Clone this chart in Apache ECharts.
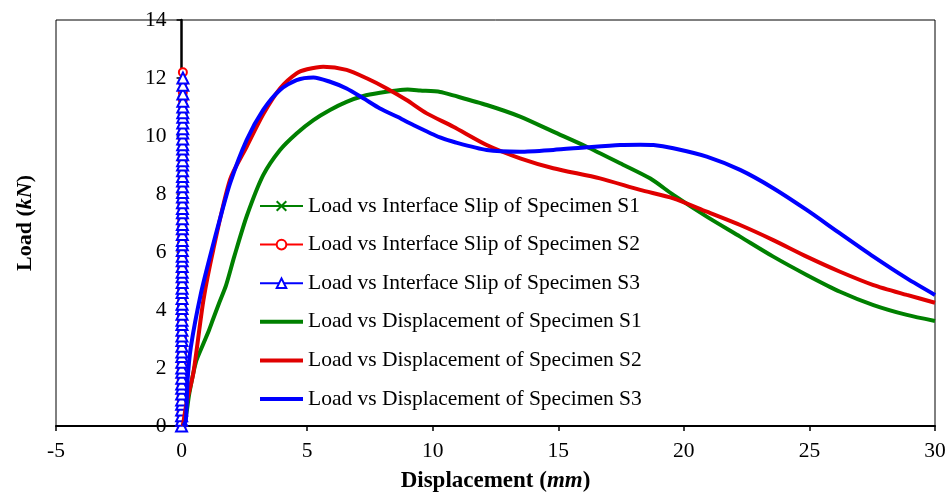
<!DOCTYPE html>
<html>
<head>
<meta charset="utf-8">
<script src="https://cdn.jsdelivr.net/npm/echarts@6/dist/echarts.min.js"></script>
<style>html,body{margin:0;padding:0;background:#fff}#c{width:950px;height:492px}</style>
</head>
<body>
<div id="c"></div>
<script>
// ---- data ----
const xTicks = [-5, 0, 5, 10, 15, 20, 25, 30];
const yTicks = [0, 2, 4, 6, 8, 10, 12, 14];

const seriesNames = [
  'Load vs Interface Slip of Specimen S1',
  'Load vs Interface Slip of Specimen S2',
  'Load vs Interface Slip of Specimen S3',
  'Load vs Displacement of Specimen S1',
  'Load vs Displacement of Specimen S2',
  'Load vs Displacement of Specimen S3'
];

// interface slip (mm) and load (kN)
const slipS1X = [0, 0.002, 0.004, 0.005, 0.007, 0.008, 0.010, 0.011, 0.012, 0.014, 0.015, 0.016, 0.018, 0.019, 0.020, 0.022, 0.023, 0.024, 0.026, 0.027, 0.028, 0.030, 0.031, 0.032, 0.034, 0.035, 0.036, 0.038, 0.039, 0.040, 0.041, 0.043, 0.044, 0.045, 0.046];
const slipS1Y = [0, 0.2, 0.5, 0.8, 1.1, 1.3, 1.6, 1.9, 2.2, 2.4, 2.7, 3.0, 3.3, 3.6, 3.9, 4.3, 4.7, 5.0, 5.4, 5.8, 6.2, 6.6, 7.0, 7.4, 7.8, 8.2, 8.6, 9.0, 9.4, 9.8, 10.2, 10.6, 10.9, 11.2, 11.5];
const slipS2X = [0, 0.001, 0.002, 0.003, 0.003, 0.004, 0.005, 0.006, 0.007, 0.007, 0.008, 0.009, 0.010, 0.011, 0.011, 0.012, 0.013, 0.014, 0.015, 0.015, 0.016, 0.017, 0.018, 0.019, 0.019, 0.020, 0.021, 0.022, 0.023, 0.023, 0.024, 0.025, 0.026, 0.027, 0.027, 0.028, 0.029, 0.030, 0.031, 0.031, 0.032, 0.033, 0.034, 0.035, 0.035, 0.036, 0.037, 0.038, 0.039, 0.039, 0.040, 0.041, 0.042, 0.043, 0.043, 0.044, 0.045, 0.046, 0.047, 0.047, 0.048, 0.049, 0.050, 0.051, 0.052];
const slipS2Y = [0, 0.15, 0.35, 0.5, 0.7, 0.9, 1.05, 1.25, 1.4, 1.6, 1.8, 1.95, 2.15, 2.3, 2.5, 2.7, 2.85, 3.05, 3.2, 3.4, 3.6, 3.8, 3.95, 4.15, 4.3, 4.5, 4.7, 4.9, 5.05, 5.25, 5.45, 5.6, 5.8, 6.0, 6.15, 6.35, 6.55, 6.75, 6.9, 7.1, 7.3, 7.5, 7.65, 7.85, 8.05, 8.25, 8.4, 8.6, 8.8, 9.0, 9.15, 9.35, 9.55, 9.75, 9.9, 10.1, 10.3, 10.5, 10.65, 10.85, 11.05, 11.25, 11.5, 11.85, 12.2];
const slipS3X = [0, 0.001, 0.002, 0.003, 0.004, 0.004, 0.005, 0.006, 0.007, 0.008, 0.009, 0.009, 0.010, 0.011, 0.012, 0.013, 0.014, 0.014, 0.015, 0.016, 0.017, 0.018, 0.019, 0.019, 0.020, 0.021, 0.022, 0.023, 0.024, 0.024, 0.025, 0.026, 0.027, 0.028, 0.029, 0.029, 0.030, 0.031, 0.032, 0.033, 0.034, 0.034, 0.035, 0.036, 0.037, 0.038, 0.039, 0.039, 0.040, 0.041, 0.042, 0.043, 0.044, 0.044, 0.045, 0.046, 0.047, 0.048, 0.049, 0.049, 0.050, 0.051, 0.052, 0.053, 0.054];
const slipS3Y = [0, 0.2, 0.35, 0.55, 0.75, 0.9, 1.1, 1.3, 1.45, 1.65, 1.85, 2.0, 2.2, 2.4, 2.55, 2.75, 2.95, 3.1, 3.3, 3.5, 3.65, 3.85, 4.05, 4.2, 4.4, 4.6, 4.75, 4.95, 5.15, 5.3, 5.5, 5.7, 5.85, 6.05, 6.25, 6.4, 6.6, 6.8, 6.95, 7.15, 7.35, 7.5, 7.7, 7.9, 8.05, 8.25, 8.45, 8.6, 8.8, 9.0, 9.15, 9.35, 9.55, 9.7, 9.9, 10.1, 10.25, 10.45, 10.65, 10.8, 11.0, 11.2, 11.45, 11.75, 12.0];

// displacement (mm) and load (kN)
const dispS1X = [0.05, 0.17, 0.31, 0.57, 0.85, 1.1, 1.26, 1.5, 1.77, 2.1, 2.6, 3.25, 3.92, 4.58, 5.25, 5.91, 6.57, 7.24, 7.9, 8.57, 9.0, 9.5, 10.3, 10.82, 12.15, 13.48, 14.8, 16.13, 17.46, 18.65, 19.58, 20.91, 22.24, 23.56, 24.89, 26.22, 27.55, 28.88, 30];
const dispS1Y = [0, 0.32, 1.13, 2.2, 2.8, 3.32, 3.7, 4.25, 4.85, 5.85, 7.25, 8.65, 9.52, 10.09, 10.55, 10.9, 11.18, 11.38, 11.49, 11.57, 11.6, 11.57, 11.52, 11.4, 11.07, 10.67, 10.15, 9.63, 9.06, 8.54, 7.97, 7.22, 6.53, 5.84, 5.21, 4.63, 4.17, 3.83, 3.62];
const dispS2X = [0.05, 0.2, 0.47, 0.87, 1.26, 1.93, 2.59, 3.25, 3.92, 4.58, 5.0, 5.64, 6.57, 7.37, 8.17, 8.96, 9.76, 10.82, 12.15, 13.48, 14.8, 16.66, 18.26, 19.58, 20.91, 22.24, 23.56, 24.89, 26.22, 27.55, 28.88, 30];
const dispS2Y = [0, 0.8, 1.83, 4.34, 6.07, 8.5, 9.63, 10.75, 11.64, 12.16, 12.3, 12.39, 12.28, 11.99, 11.64, 11.24, 10.78, 10.32, 9.69, 9.23, 8.89, 8.54, 8.14, 7.85, 7.39, 6.93, 6.41, 5.84, 5.32, 4.86, 4.52, 4.25];
const dispS3X = [0.07, 0.17, 0.24, 0.37, 0.77, 1.2, 1.5, 1.93, 2.59, 3.25, 3.92, 4.58, 5.25, 5.91, 6.57, 7.24, 7.9, 8.57, 9.23, 10.29, 10.82, 12.15, 13.48, 14.8, 16.13, 17.46, 18.26, 18.79, 19.58, 20.91, 22.24, 23.56, 24.89, 26.22, 27.55, 28.88, 30];
const dispS3Y = [0, 0.2, 1.59, 2.73, 4.57, 6.07, 7.05, 8.37, 9.86, 10.9, 11.59, 11.93, 12.02, 11.87, 11.64, 11.3, 10.95, 10.67, 10.38, 9.95, 9.8, 9.52, 9.46, 9.52, 9.61, 9.69, 9.7, 9.69, 9.58, 9.29, 8.83, 8.2, 7.45, 6.64, 5.84, 5.09, 4.52];

function zip(xs, ys) { return xs.map((x, i) => [x, ys[i]]); }

const FONT = '"Liberation Serif", "Times New Roman", serif';
const GREEN = '#008000', RED = '#e00000', BLUE = '#0000ff';
const GRID_LEFT = 56;

const chart = echarts.init(document.getElementById('c'), null, {renderer: 'canvas'});

function slipSeries(name, data, color, symbol, size) {
  return {
    name, type: 'line', data, symbol, symbolSize: size, showSymbol: true, showAllSymbol: true,
    lineStyle: {color, width: 1.3},
    itemStyle: {color, borderColor: color, borderWidth: 2},
    animation: false, z: 2
  };
}
function dispSeries(name, data, color) {
  return {
    name, type: 'line', data, symbol: 'none', smooth: 0.25,
    lineStyle: {color, width: 4}, itemStyle: {color},
    animation: false, z: 3
  };
}
const LINE_ICON = 'path://M0,0L43,0L43,4L0,4Z';

function yAxisOpt(offset) {
  return {
    type: 'value', min: yTicks[0], max: yTicks[yTicks.length - 1], interval: 2,
    position: 'left', offset: offset,
    axisLine: {onZero: false, lineStyle: {color: '#000', width: 2.5}},
    axisTick: {show: true, inside: false, length: 5, lineStyle: {color: '#000', width: 1.5}},
    axisLabel: {fontFamily: FONT, fontSize: 21.5, color: '#000', margin: 15},
    splitLine: {show: false},
    name: '{b|Load (}{bi|kN}{b|)}', nameLocation: 'middle', nameGap: 146, nameRotate: 90,
    nameTextStyle: {rich: {
      b: {fontFamily: FONT, fontSize: 22, fontWeight: 'bold', color: '#000'},
      bi: {fontFamily: FONT, fontSize: 22, fontWeight: 'bold', fontStyle: 'italic', color: '#000'}
    }}
  };
}

chart.setOption({
  backgroundColor: '#fff',
  animation: false,
  grid: {left: GRID_LEFT, right: 15, top: 20, bottom: 66, show: true, borderColor: '#000', borderWidth: 1,
         containLabel: false, outerBoundsMode: 'none'},
  legend: {
    orient: 'vertical', left: 254, top: 190,
    itemWidth: 43, itemHeight: 12, itemGap: 16.6,
    textStyle: {fontFamily: FONT, fontSize: 21.5, color: '#000', lineHeight: 22},
    data: [
      {name: seriesNames[0]},
      {name: seriesNames[1]},
      {name: seriesNames[2]},
      {name: seriesNames[3], icon: LINE_ICON},
      {name: seriesNames[4], icon: LINE_ICON},
      {name: seriesNames[5], icon: LINE_ICON}
    ]
  },
  xAxis: {
    type: 'value', min: xTicks[0], max: xTicks[xTicks.length - 1], interval: 5,
    axisLine: {onZero: false, lineStyle: {color: '#000', width: 2}},
    axisTick: {show: true, inside: false, length: 5, lineStyle: {color: '#000', width: 1.5}},
    axisLabel: {fontFamily: FONT, fontSize: 21.5, color: '#000', margin: 14},
    splitLine: {show: false},
    name: '{b|Displacement (}{bi|mm}{b|)}', nameLocation: 'middle', nameGap: 44,
    nameTextStyle: {rich: {
      b: {fontFamily: FONT, fontSize: 23, fontWeight: 'bold', color: '#000'},
      bi: {fontFamily: FONT, fontSize: 23, fontWeight: 'bold', fontStyle: 'italic', color: '#000'}
    }}
  },
  yAxis: yAxisOpt(0),
  series: [
    slipSeries(seriesNames[0], zip(slipS1X, slipS1Y), GREEN, 'path://M0,0L10,10M10,0L0,10', 9),
    slipSeries(seriesNames[1], zip(slipS2X, slipS2Y), '#ff0000', 'emptyCircle', 8),
    slipSeries(seriesNames[2], zip(slipS3X, slipS3Y), BLUE, 'emptyTriangle', 11),
    dispSeries(seriesNames[3], zip(dispS1X, dispS1Y), GREEN),
    dispSeries(seriesNames[4], zip(dispS2X, dispS2Y), RED),
    dispSeries(seriesNames[5], zip(dispS3X, dispS3Y), BLUE)
  ]
});

// place the y axis on x = 0 (as in the reference) using the x scale
const px0 = chart.convertToPixel({xAxisIndex: 0}, 0);
const yOpt = yAxisOpt(GRID_LEFT - px0);
yOpt.nameGap = px0 - 36;
chart.setOption({yAxis: yOpt});
</script>
</body>
</html>
